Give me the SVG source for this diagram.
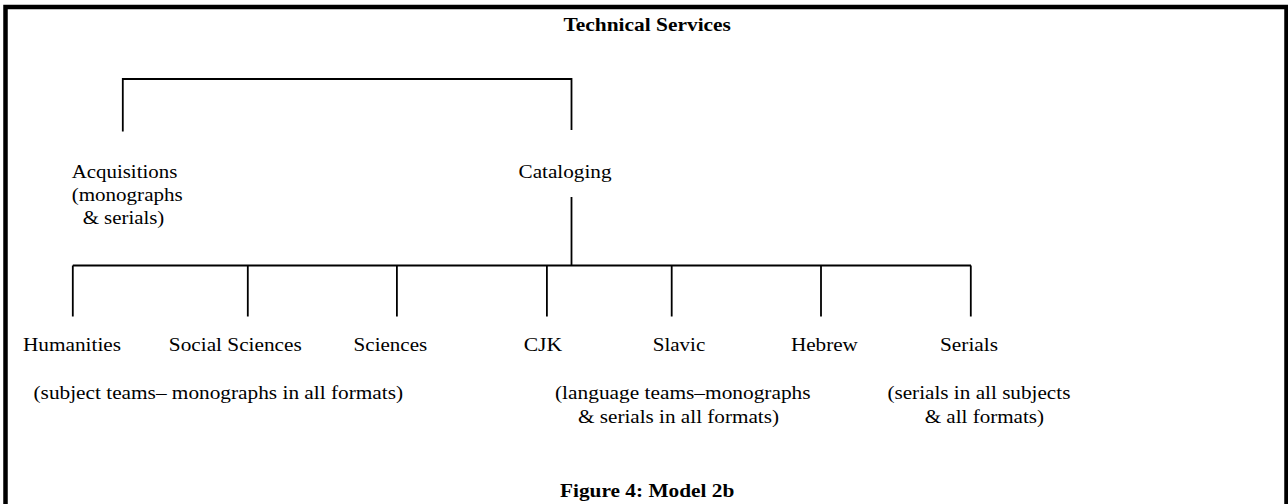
<svg xmlns="http://www.w3.org/2000/svg" width="1288" height="504" viewBox="0 0 1288 504">
<style>
text{font-family:"Liberation Serif","Times New Roman",serif;font-size:18.5px;fill:#000}
.b{font-weight:bold}
.ln{fill:none;stroke:#000;stroke-width:1.8}
</style>
<rect x="0" y="0" width="1288" height="504" fill="#fff"/>
<rect x="5.5" y="7" width="1281" height="600" fill="none" stroke="#000" stroke-width="4.5"/>
<g id="title"><text class="b" x="563.5" y="30.7" textLength="167.4" lengthAdjust="spacingAndGlyphs">Technical Services</text></g>
<g id="connectors">
<path class="ln" d="M122.8,131.5 V79 H571.5 V130"/>
<path class="ln" d="M571.5,197 V265.5"/>
<path class="ln" d="M72.8,265.5 H971"/>
<path class="ln" d="M72.8,265.5 V316.5 M247.8,265.5 V316.5 M396.9,265.5 V316.5 M546.9,265.5 V316.5 M671.7,265.5 V316.5 M821,265.5 V316.5 M970.8,265.5 V316.5"/>
</g>
<g id="acquisitions">
<text x="71.7" y="178.3" textLength="105.6" lengthAdjust="spacingAndGlyphs">Acquisitions</text>
<text x="71.7" y="201" textLength="111" lengthAdjust="spacingAndGlyphs">(monographs</text>
<text x="82.7" y="224" textLength="81.6" lengthAdjust="spacingAndGlyphs">&amp; serials)</text>
</g>
<g id="cataloging"><text x="518.5" y="178.3" textLength="93" lengthAdjust="spacingAndGlyphs">Cataloging</text></g>
<g id="humanities"><text x="23" y="350.5" textLength="98" lengthAdjust="spacingAndGlyphs">Humanities</text></g>
<g id="social-sciences"><text x="168.8" y="350.5" textLength="133" lengthAdjust="spacingAndGlyphs">Social Sciences</text></g>
<g id="sciences"><text x="353.6" y="350.5" textLength="73.6" lengthAdjust="spacingAndGlyphs">Sciences</text></g>
<g id="cjk"><text x="523.7" y="350.5" textLength="38.5" lengthAdjust="spacingAndGlyphs">CJK</text></g>
<g id="slavic"><text x="652.7" y="350.5" textLength="52.6" lengthAdjust="spacingAndGlyphs">Slavic</text></g>
<g id="hebrew"><text x="790.9" y="350.5" textLength="67" lengthAdjust="spacingAndGlyphs">Hebrew</text></g>
<g id="serials"><text x="940" y="350.5" textLength="58" lengthAdjust="spacingAndGlyphs">Serials</text></g>
<g id="note-subject"><text x="33.5" y="398.5" textLength="369.6" lengthAdjust="spacingAndGlyphs">(subject teams– monographs in all formats)</text></g>
<g id="note-language">
<text x="555" y="398.5" textLength="255.6" lengthAdjust="spacingAndGlyphs">(language teams–monographs</text>
<text x="578" y="423" textLength="201" lengthAdjust="spacingAndGlyphs">&amp; serials in all formats)</text>
</g>
<g id="note-serials">
<text x="887.4" y="398.5" textLength="183" lengthAdjust="spacingAndGlyphs">(serials in all subjects</text>
<text x="924.7" y="423" textLength="119.3" lengthAdjust="spacingAndGlyphs">&amp; all formats)</text>
</g>
<g id="caption"><text class="b" x="560" y="497.3" textLength="174.3" lengthAdjust="spacingAndGlyphs">Figure 4: Model 2b</text></g>
</svg>
